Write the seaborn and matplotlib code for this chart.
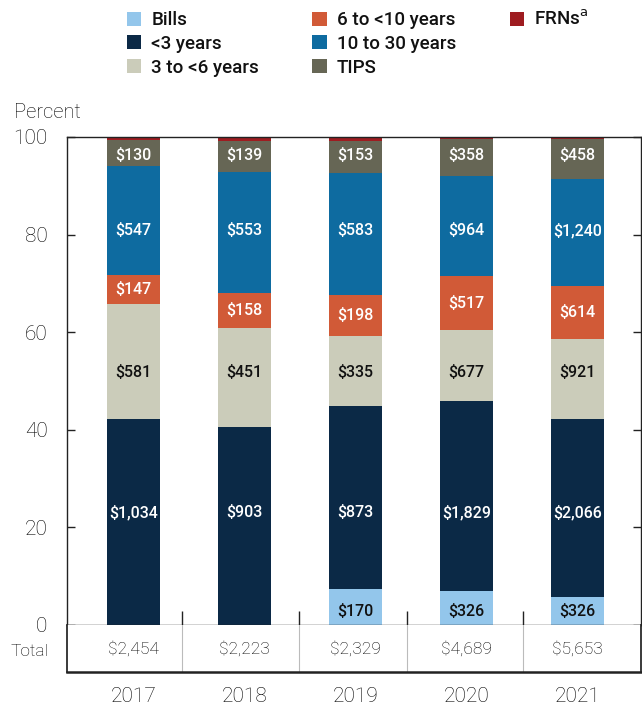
import numpy as np
import pandas as pd
import matplotlib
matplotlib.use("Agg")
import matplotlib.pyplot as plt
from matplotlib.patches import Patch
import seaborn as sns

# ---------------- data ----------------
years = ["2017", "2018", "2019", "2020", "2021"]
series = ["Bills", "<3 years", "3 to <6 years", "6 to <10 years",
          "10 to 30 years", "TIPS", "FRNs"]
bills = [0, 0, 170, 326, 326]
lt3 = [1034, 903, 873, 1829, 2066]
y3to6 = [581, 451, 335, 677, 921]
y6to10 = [147, 158, 198, 517, 614]
y10to30 = [547, 553, 583, 964, 1240]
tips = [130, 139, 153, 358, 458]
totals = [2454, 2223, 2329, 4689, 5653]
# FRNs = remainder of total
frns = [t - (a + b + c + d + e + f) for t, a, b, c, d, e, f in
        zip(totals, bills, lt3, y3to6, y6to10, y10to30, tips)]

values = [bills, lt3, y3to6, y6to10, y10to30, tips, frns]

# ---------------- style ----------------
colors = ["#93C6EB", "#0B2946", "#CBCCBA", "#D15A37", "#0E6BA0", "#666655", "#9E1C20"]
label_colors = ["#111111", "white", "#111111", "white", "white", "white", None]
label_y = [2.7, 23.0, 51.8, None, 80.9, 96.3, None]  # None -> centre of segment
divider_x = [0.44, 1.49, 2.46, 3.51]
text_col = "#000000"

sns.set_theme(style="white")
plt.rcParams["font.family"] = ["Roboto", "DejaVu Sans"]

fig = plt.figure(figsize=(6.42, 7.09), dpi=100)
W, H = 642, 709
def fx(px): return px / W
def fy(py): return 1 - py / H

ax = fig.add_axes([fx(67), fy(625), fx(641) - fx(67), fy(137) - fy(625)])
tax = fig.add_axes([fx(67), fy(672), fx(641) - fx(67), fy(625) - fy(672)])

# percentages & cumulative
shares = np.array([[v / t * 100 for v, t in zip(s, totals)] for s in values])
cum = np.cumsum(shares, axis=0)

# draw cumulative bars from top to bottom
for i in range(len(series) - 1, -1, -1):
    df = pd.DataFrame({"year": years, "pct": cum[i]})
    sns.barplot(data=df, x="year", y="pct", color=colors[i], saturation=1,
                width=0.48, ax=ax, linewidth=0, order=years)

# labels
for i in range(len(series)):
    if label_colors[i] is None:
        continue
    for j, yr in enumerate(years):
        v = values[i][j]
        if v <= 0:
            continue
        if label_y[i] is None:
            yy = cum[i][j] - shares[i][j] / 2
        else:
            yy = label_y[i]
        ax.text(j, yy, f"${v:,}", ha="center", va="center",
                color=label_colors[i], fontsize=11.5, fontweight="medium")

ax.set_xlim(-0.6, 4.57)
ax.set_ylim(0, 100)
ax.set_yticks([0, 20, 40, 60, 80, 100])
ax.set_xticks(divider_x)
ax.set_xticklabels([])
ax.set_xlabel("")
ax.set_ylabel("")
ax.tick_params(axis="y", direction="in", length=6, width=1, colors="#222222",
               left=True, right=True, labelsize=15, pad=14, labelcolor=text_col)
ax.tick_params(axis="x", direction="in", length=10, width=1, bottom=True,
               colors="#222222")
for lab in ax.get_yticklabels():
    lab.set_fontweight("light")
for sp in ax.spines.values():
    sp.set_visible(True)
    sp.set_color("#222222")
    sp.set_linewidth(1.0)

# table
tax.set_xlim(ax.get_xlim())
tax.set_ylim(0, 1)
for xd in divider_x:
    tax.axvline(xd, color="#bbbbbb", lw=0.8)
for j, t in enumerate(totals):
    tax.text(j, 0.5, f"${t:,}", ha="center", va="center", fontsize=12.5,
             fontweight="light", color=text_col)
tax.set_yticks([])
tax.set_xticks(range(len(years)))
tax.set_xticklabels(years, fontsize=15, fontweight="light", color=text_col)
tax.tick_params(axis="x", length=0, pad=11)
tax.spines["top"].set_visible(False)
for s in ["left", "right", "bottom"]:
    tax.spines[s].set_visible(True)
    tax.spines[s].set_color("#222222")
tax.spines["bottom"].set_linewidth(1.8)

fig.text(fx(14), fy(113), "Percent", fontsize=14.5, fontweight="light",
         color=text_col, va="center", ha="left")
fig.text(fx(11), fy(651), "Total", fontsize=12.5, fontweight="light",
         color=text_col, va="center", ha="left")

# legend (pad with blanks so columns are 3,3,1)
legend_labels = ["Bills", "<3 years", "3 to <6 years", "6 to <10 years",
                 "10 to 30 years", "TIPS", "FRNs$^{\\mathrm{a}}$", "", ""]
handles = [Patch(facecolor=c, edgecolor="none") for c in colors]
handles += [Patch(facecolor="none", edgecolor="none")] * 2
leg = fig.legend(handles, legend_labels, ncol=3, loc="upper left",
                 bbox_to_anchor=(fx(110), fy(-7)), frameon=False,
                 prop={"size": 13.5, "weight": "medium"},
                 handlelength=0.75, handleheight=0.75, handletextpad=0.55,
                 columnspacing=2.85, labelspacing=0.3)
for t in leg.get_texts():
    t.set_color("#111111")

fig.savefig("out.png", dpi=100)
